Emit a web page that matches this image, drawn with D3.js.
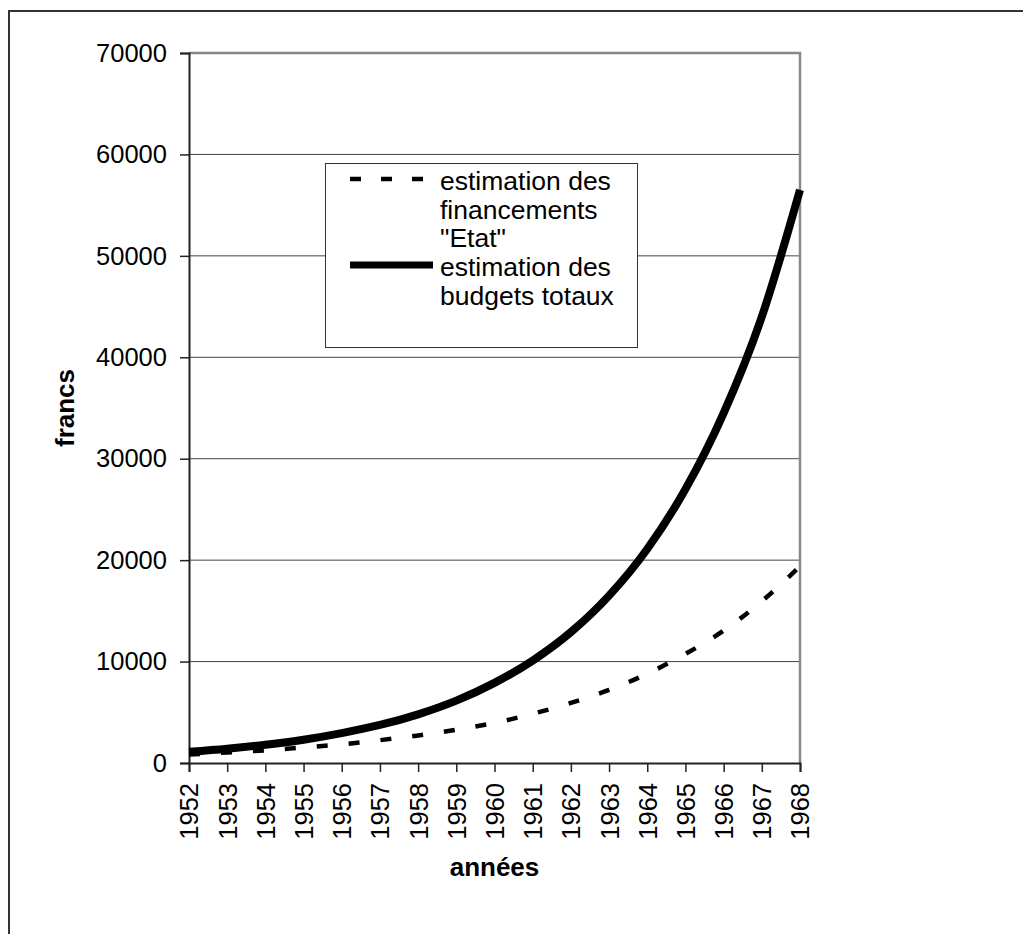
<!DOCTYPE html>
<html>
<head>
<meta charset="utf-8">
<script src="https://cdn.jsdelivr.net/npm/d3@7"></script>
<style>
  body { margin: 0; background: #fff; }
  svg text { font-family: "Liberation Sans", Arial, sans-serif; }
</style>
</head>
<body>
<div id="chart"></div>
<script>
// annees
var years = [1952, 1953, 1954, 1955, 1956, 1957, 1958, 1959, 1960, 1961, 1962, 1963, 1964, 1965, 1966, 1967, 1968];
// estimation des budgets totaux
var budgets = [1100, 1400, 1800, 2300, 2950, 3750, 4800, 6150, 7900, 10100, 12900, 16500, 21100, 27000, 34500, 44000, 56500];
// estimation des financements "Etat"
var etat = [850, 1030, 1250, 1530, 1840, 2250, 2720, 3280, 3950, 4850, 5920, 7200, 8800, 10750, 13050, 15950, 19400];
var yTicks = [0, 10000, 20000, 30000, 40000, 50000, 60000, 70000];

const width = 1023, height = 934;
const plotLeft = 189, plotRight = 800, plotTop = 53, plotBottom = 763;

const svg = d3.select('#chart').append('svg')
    .attr('width', width)
    .attr('height', height);

// outer chart frame (cut by the page on right and bottom)
svg.append('path')
    .attr('d', 'M9,' + height + ' V11 H' + width)
    .attr('fill', 'none')
    .attr('stroke', '#333')
    .attr('stroke-width', 2);

var x = d3.scaleLinear().domain([1952, 1968]).range([plotLeft, plotRight]);
var y = d3.scaleLinear().domain([0, 70000]).range([plotBottom, plotTop]);

// gridlines
svg.append('g')
    .selectAll('line')
    .data(yTicks.filter(function(d) { return d > 0 && d < 70000; }))
    .enter().append('line')
    .attr('x1', plotLeft).attr('x2', plotRight)
    .attr('y1', function(d) { return y(d); })
    .attr('y2', function(d) { return y(d); })
    .attr('stroke', '#444')
    .attr('stroke-width', 1);

// plot area top + right border (grey)
svg.append('path')
    .attr('d', 'M' + plotLeft + ',' + y(70000) + ' H' + plotRight + ' V' + plotBottom)
    .attr('fill', 'none')
    .attr('stroke', '#888')
    .attr('stroke-width', 2.5);

// y axis
var yAxis = svg.append('g')
    .attr('transform', 'translate(' + plotLeft + ',0)')
    .call(d3.axisLeft(y).tickValues(yTicks).tickSize(9).tickPadding(13).tickFormat(d3.format('d')));
yAxis.select('.domain').attr('stroke', '#222').attr('stroke-width', 2);
yAxis.selectAll('.tick line').attr('stroke', '#222').attr('stroke-width', 1.5);
yAxis.selectAll('text').style('font-size', '25.5px').attr('fill', '#000');

// x axis
var xAxis = svg.append('g')
    .attr('transform', 'translate(0,' + plotBottom + ')')
    .call(d3.axisBottom(x).tickValues(years).tickSize(9).tickFormat(d3.format('d')));
xAxis.select('.domain').attr('stroke', '#222').attr('stroke-width', 2);
xAxis.selectAll('.tick line').attr('stroke', '#222').attr('stroke-width', 1.5);
xAxis.selectAll('text')
    .style('font-size', '25.5px')
    .attr('fill', '#000')
    .attr('text-anchor', 'end')
    .attr('transform', 'rotate(-90)')
    .attr('x', -20)
    .attr('y', 0)
    .attr('dy', '0.35em');

// lines
var line = d3.line()
    .x(function(d, i) { return x(years[i]); })
    .y(function(d) { return y(d); })
    .curve(d3.curveMonotoneX);

svg.append('path')
    .datum(etat)
    .attr('d', line)
    .attr('fill', 'none')
    .attr('stroke', '#000')
    .attr('stroke-width', 4.5)
    .attr('stroke-dasharray', '11,21');

svg.append('path')
    .datum(budgets)
    .attr('d', line)
    .attr('fill', 'none')
    .attr('stroke', '#000')
    .attr('stroke-width', 8);

// axis titles
svg.append('text')
    .attr('transform', 'translate(74,' + ((plotTop + plotBottom) / 2) + ') rotate(-90)')
    .attr('text-anchor', 'middle')
    .style('font-size', '26px')
    .style('font-weight', 'bold')
    .text('francs');

svg.append('text')
    .attr('x', (plotLeft + plotRight) / 2)
    .attr('y', 876)
    .attr('text-anchor', 'middle')
    .style('font-size', '26px')
    .style('font-weight', 'bold')
    .text('années');

// legend
var legend = svg.append('g').attr('id', 'legend');
legend.append('rect')
    .attr('x', 325.5).attr('y', 163.5)
    .attr('width', 312).attr('height', 184)
    .attr('fill', '#fff')
    .attr('stroke', '#333')
    .attr('stroke-width', 1);

var legendItems = [
    { lines: ['estimation des', 'financements', '"Etat"'], dash: '11,20', w: 4.5, y: 179 },
    { lines: ['estimation des', 'budgets totaux'], dash: null, w: 7, y: 265 }
];
legendItems.forEach(function(item) {
    legend.append('line')
        .attr('x1', 350).attr('x2', 433)
        .attr('y1', item.y).attr('y2', item.y)
        .attr('stroke', '#000')
        .attr('stroke-width', item.w)
        .attr('stroke-dasharray', item.dash);
    var t = legend.append('text')
        .attr('x', 440)
        .attr('y', item.y + 11)
        .style('font-size', '26.5px');
    item.lines.forEach(function(l, i) {
        t.append('tspan').attr('x', 440).attr('dy', i === 0 ? 0 : 28.5).text(l);
    });
});
</script>
</body>
</html>
